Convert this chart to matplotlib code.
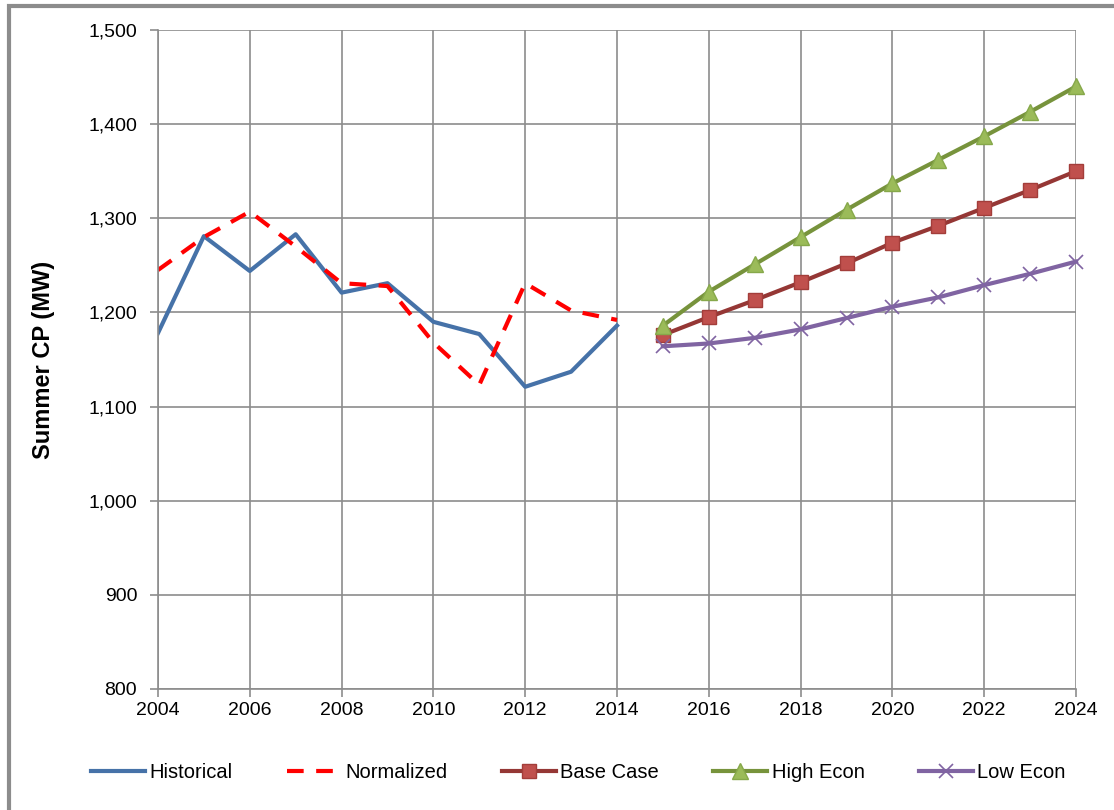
import matplotlib.pyplot as plt
from matplotlib.patches import Rectangle
from matplotlib.ticker import FuncFormatter, MultipleLocator

plt.rcParams['font.family'] = ['Liberation Sans', 'DejaVu Sans']

hist_years = list(range(2004, 2015))
historical = [1178, 1281, 1244, 1283, 1221, 1231, 1190, 1177, 1121, 1137, 1186]
normalized = [1245, 1280, 1307, 1270, 1231, 1228, 1168, 1123, 1231, 1202, 1192]

fc_years = list(range(2015, 2025))
base_case = [1176, 1195, 1213, 1232, 1252, 1274, 1292, 1311, 1330, 1350]
high_econ = [1186, 1222, 1251, 1280, 1309, 1337, 1362, 1387, 1413, 1440]
low_econ = [1164, 1167, 1173, 1182, 1194, 1206, 1216, 1229, 1241, 1254]

fig = plt.figure(figsize=(11.14, 8.10), dpi=100)
ax = fig.add_axes([0.1418, 0.1494, 0.8241, 0.8136])

ax.plot(hist_years, historical, color='#4672A8', lw=3, label='Historical')
ax.plot(hist_years, normalized, color='#FF0000', lw=3, ls=(0, (4, 3)), label='Normalized')
ax.plot(fc_years, base_case, color='#953735', lw=3, marker='s', ms=10,
        mfc='#C0504D', mec='#A33D3A', label='Base Case', clip_on=False)
ax.plot(fc_years, high_econ, color='#77933C', lw=3, marker='^', ms=11,
        mfc='#9BBB59', mec='#86A84A', label='High Econ', clip_on=False)
ax.plot(fc_years, low_econ, color='#8064A2', lw=3, marker='x', ms=10,
        mew=1.2, label='Low Econ', clip_on=False)

ax.set_xlim(2004, 2024)
ax.set_ylim(800, 1500)
ax.xaxis.set_major_locator(MultipleLocator(2))
ax.yaxis.set_major_locator(MultipleLocator(100))
ax.yaxis.set_major_formatter(FuncFormatter(lambda v, p: f'{int(v):,}'))
ax.grid(True, color='#8C8C8C', lw=1.2)
ax.set_axisbelow(True)
for s in ['top', 'right']:
    ax.spines[s].set_visible(False)
for s in ['left', 'bottom']:
    ax.spines[s].set_color('#8C8C8C')
    ax.spines[s].set_linewidth(1.2)
ax.tick_params(axis='both', labelsize=14, color='#8C8C8C', length=6, width=1.2)
ax.tick_params(axis='y', pad=9)
ax.set_ylabel('Summer CP (MW)', fontsize=17, fontweight='bold', labelpad=24)

fig.legend(loc='center', bbox_to_anchor=(0.519, 0.046), ncol=5, frameon=False,
           fontsize=14.5, handlelength=2.7, columnspacing=2.7, handletextpad=0.2)

fig.patches.append(Rectangle((0.008, -0.1), 1.2, 1.092, transform=fig.transFigure,
                             fill=False, edgecolor='#8C8C8C', lw=3))

plt.savefig('out.png')
